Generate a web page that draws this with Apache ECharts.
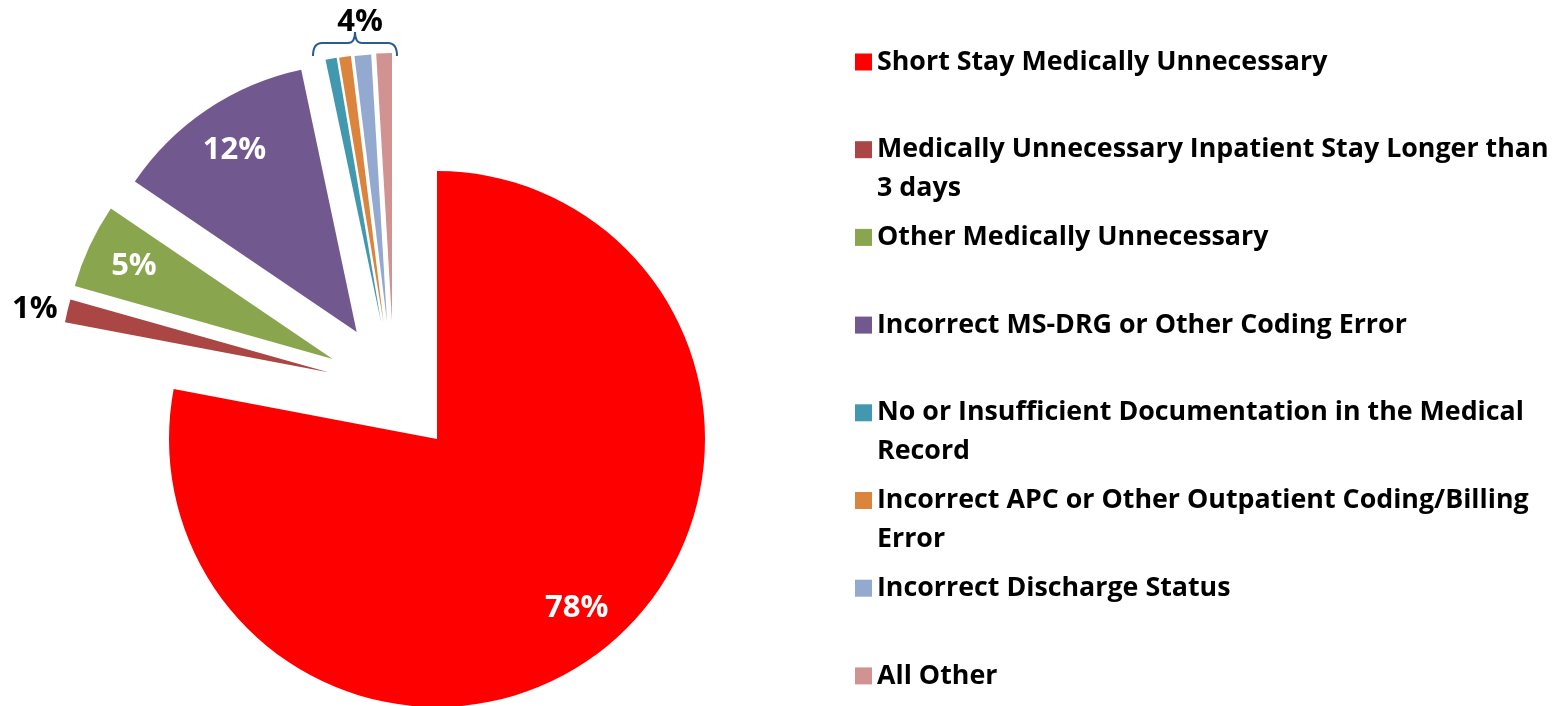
<!DOCTYPE html>
<html>
<head>
<meta charset="utf-8">
<script src="https://cdn.jsdelivr.net/npm/echarts@6/dist/echarts.min.js"></script>
<style>
  html, body { margin: 0; padding: 0; background: #fff; }
  #chart { width: 1561px; height: 706px; }
</style>
</head>
<body>
<div id="chart"></div>
<script>
const categories = [
  "Short Stay Medically Unnecessary",
  "Medically Unnecessary Inpatient Stay Longer than\n3 days",
  "Other Medically Unnecessary",
  "Incorrect MS-DRG or Other Coding Error",
  "No or Insufficient Documentation in the Medical\nRecord",
  "Incorrect APC or Other Outpatient Coding/Billing\nError",
  "Incorrect Discharge Status",
  "All Other"
];
const values = [78.0, 1.4, 5.1, 12.2, 0.67, 0.71, 1.0, 0.94];
const colors = ["#FF0000", "#AA4643", "#89A54E", "#71588F", "#4198AF", "#DB843D", "#93A9CF", "#D19392"];
const labelModes = ["inside", "outside", "inside", "inside", "none", "none", "none", "none"];
const groupLabel = "4%";

// each slice is pulled out by its own amount, so every slice gets its own centre
const sliceCenters = [
  [437, 439], [328.3, 372.3], [332.7, 359], [356.7, 332],
  [381, 322], [383.5, 322], [387, 322], [392, 321]
];
const R = 268;
const LH = 39;
const FONT = "'Open Sans', Lato, sans-serif";
const BRACE = "#2A5C8F";

const chart = echarts.init(document.getElementById("chart"));

const series = categories.map((_, i) => {
  const mode = labelModes[i];
  const [cx, cy] = sliceCenters[i];
  const s = {
    type: "pie",
    center: [cx, cy],
    radius: [0, R],
    startAngle: 90,
    clockwise: true,
    percentPrecision: 0,
    avoidLabelOverlap: false,
    animation: false,
    emphasis: { disabled: true },
    label: {
      position: mode === "outside" ? "outside" : "inside",
      formatter: "{d}%",
      color: mode === "outside" ? "#000" : "#fff",
      fontFamily: FONT,
      fontWeight: "bold",
      fontSize: 31,
      width: 100,
      bleedMargin: 0
    },
    labelLine: { show: false, length: 5, length2: 0 },
    data: categories.map((name, j) => ({
      name,
      value: values[j],
      itemStyle: { color: j === i ? colors[j] : "rgba(0,0,0,0)", borderWidth: 0 },
      label: { show: j === i && mode !== "none" }
    }))
  };
  if (mode === "inside") {
    // move inside labels out to ~0.8 of the radius
    s.labelLayout = (p) => {
      const lx = p.labelRect.x + p.labelRect.width / 2;
      const ly = p.labelRect.y + p.labelRect.height / 2;
      return { x: cx + (lx - cx) * 1.6, y: cy + (ly - cy) * 1.6 };
    };
  }
  return s;
});

const braceStyle = { fill: null, stroke: BRACE, lineWidth: 2 };
const braceParts = [
  { type: "bezierCurve", shape: { x1: 313, y1: 56, cpx1: 313, cpy1: 43, x2: 322, y2: 43 } },
  { type: "line", shape: { x1: 322, y1: 43, x2: 348, y2: 43 } },
  { type: "bezierCurve", shape: { x1: 348, y1: 43, cpx1: 355, cpy1: 43, x2: 355, y2: 32 } },
  { type: "bezierCurve", shape: { x1: 355, y1: 32, cpx1: 355, cpy1: 43, x2: 362, y2: 43 } },
  { type: "line", shape: { x1: 362, y1: 43, x2: 388, y2: 43 } },
  { type: "bezierCurve", shape: { x1: 388, y1: 43, cpx1: 397, cpy1: 43, x2: 397, y2: 56 } }
].map((el) => Object.assign(el, { style: braceStyle, silent: true }));

chart.setOption({
  backgroundColor: "#fff",
  legend: {
    orient: "vertical",
    left: 855,
    top: 62 - 1.5 * LH,
    height: 1000,
    padding: 0,
    itemGap: 87.7 - 3 * LH,
    itemWidth: 17,
    itemHeight: 17,
    icon: "rect",
    selectedMode: false,
    // every entry is three lines tall, the key sits beside the middle one
    formatter: (name) => (name.indexOf("\n") >= 0 ? "\n" + name : "\n" + name + "\n"),
    textStyle: {
      fontFamily: FONT,
      fontWeight: "bold",
      fontSize: 26.8,
      color: "#000",
      lineHeight: LH
    },
    data: categories.map((name, i) => ({
      name,
      itemStyle: { color: colors[i] }
    }))
  },
  graphic: braceParts.concat([
    {
      type: "text",
      x: 360,
      y: 22,
      style: {
        text: groupLabel,
        fill: "#000",
        font: "bold 31px " + FONT,
        textAlign: "center",
        textVerticalAlign: "middle"
      }
    }
  ]),
  series
});
</script>
</body>
</html>
